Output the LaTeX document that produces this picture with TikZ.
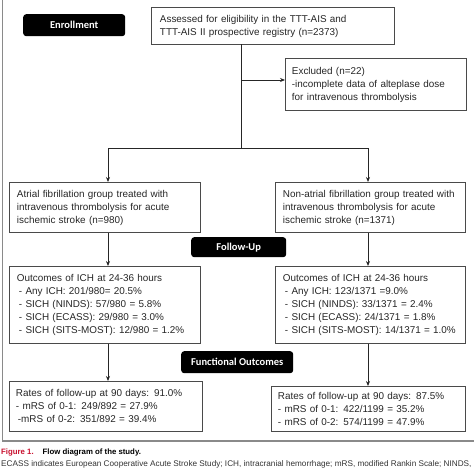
\documentclass[tikz,border=0pt]{standalone}
\usepackage{fontspec}
\setmainfont{Liberation Sans}
\newfontfamily\lblfont{Carlito}
\usetikzlibrary{arrows.meta}
\definecolor{capred}{HTML}{C8102E}
\definecolor{framegray}{HTML}{8A8A8A}
\definecolor{boxgray}{HTML}{4A4A4A}
\tikzset{
  flowbox/.style={draw=boxgray, line width=0.9pt, anchor=north west, align=left, inner sep=0pt,
    font=\fontsize{9.9}{13}\selectfont, text=black!85},
  stagebox/.style={fill=black, rounded corners=3pt, text=white, anchor=north west, inner sep=0pt,
    font=\lblfont\bfseries\fontsize{10.5}{12}\selectfont},
  conn/.style={line width=0.8pt, draw=black!85},
  arr/.style={conn, -{Stealth[length=5pt,width=4pt]}},
}
\begin{document}
\begin{tikzpicture}[x=1pt,y=-1pt]
\useasboundingbox (0,0) rectangle (474,469);
% frame
\draw[framegray, line width=1.6pt] (2.5,0) -- (2.5,441) -- (474,441);
% stage labels
\node[stagebox, minimum width=102pt, minimum height=22pt] (enr) at (23,14) {Enrollment};
\node[stagebox, minimum width=95pt, minimum height=20pt] (fu) at (191,237) {Follow-Up};
\node[stagebox, minimum width=112pt, minimum height=22pt] (fo) at (181,351) {Functional Outcomes};
% boxes
\node[flowbox, minimum width=243pt, minimum height=37pt, text width=238pt] (assess) at (151,7)
  {\hspace*{6pt}Assessed for eligibility in the TTT-AIS and\\\hspace*{6pt}TTT-AIS II prospective registry (n=2373)};
\node[flowbox, minimum width=181pt, minimum height=52pt, text width=178pt] (excl) at (285,58)
  {\hspace*{5pt}Excluded (n=22)\\\hspace*{5pt}-incomplete data of alteplase dose\\\hspace*{5pt}for intravenous thrombolysis};
\node[flowbox, minimum width=191pt, minimum height=50pt, text width=188pt] (afg) at (9,182)
  {\hspace*{6pt}Atrial fibrillation group treated with\\\hspace*{6pt}intravenous thrombolysis for acute\\\hspace*{6pt}ischemic stroke (n=980)};
\node[flowbox, minimum width=190pt, minimum height=50pt, text width=187pt] (nafg) at (275,182)
  {\hspace*{6pt}Non-atrial fibrillation group treated with\\\hspace*{6pt}intravenous thrombolysis for acute\\\hspace*{6pt}ischemic stroke (n=1371)};
\node[flowbox, minimum width=191pt, minimum height=77pt, text width=188pt] (lich) at (9,266)
  {\hspace*{6pt}Outcomes of ICH at 24-36 hours\\\hspace*{8pt}- Any ICH: 201/980= 20.5\%\\\hspace*{8pt}- SICH (NINDS): 57/980 = 5.8\%\\\hspace*{8pt}- SICH (ECASS): 29/980 = 3.0\%\\\hspace*{8pt}- SICH (SITS-MOST): 12/980 = 1.2\%};
\node[flowbox, minimum width=190pt, minimum height=77pt, text width=187pt] (rich) at (275,266)
  {\hspace*{6pt}Outcomes of ICH at 24-36 hours\\\hspace*{8pt}- Any ICH: 123/1371 =9.0\%\\\hspace*{8pt}- SICH (NINDS): 33/1371 = 2.4\%\\\hspace*{8pt}- SICH (ECASS): 24/1371 = 1.8\%\\\hspace*{8pt}- SICH (SITS-MOST): 14/1371 = 1.0\%};
\node[flowbox, minimum width=193pt, minimum height=50pt, text width=190pt] (lmrs) at (9,381)
  {\hspace*{5pt}Rates of follow-up at 90 days: 91.0\%\\\hspace*{5pt}- mRS of 0-1: 249/892 = 27.9\%\\\hspace*{7pt}-mRS of 0-2: 351/892 = 39.4\%};
\node[flowbox, minimum width=194pt, minimum height=45pt, text width=191pt] (rmrs) at (271,386)
  {\hspace*{5pt}Rates of follow-up at 90 days: 87.5\%\\\hspace*{5pt}- mRS of 0-1: 422/1199 = 35.2\%\\\hspace*{5pt}- mRS of 0-2: 574/1199 = 47.9\%};
% connectors
\coordinate (split) at (241,148);
\coordinate (exbr) at (241,80);
\coordinate (lsplit) at (108,148);
\coordinate (rsplit) at (368,148);
\draw[conn] (241,44) -- (split);
\draw[arr] (exbr) -- (excl.west |- exbr);
\draw[conn] (lsplit) -- (rsplit);
\draw[arr] (lsplit) -- (lsplit |- afg.north);
\draw[arr] (rsplit) -- (rsplit |- nafg.north);
\draw[arr] (lsplit |- afg.south) -- (lsplit |- lich.north);
\draw[arr] (rsplit |- nafg.south) -- (rsplit |- rich.north);
\draw[arr] (lsplit |- lich.south) -- (lsplit |- lmrs.north);
\draw[arr] (rsplit |- rich.south) -- (rsplit |- rmrs.north);
% caption
\node[anchor=west, inner sep=0pt, font=\bfseries\fontsize{7.8}{9}\selectfont] (cap1) at (1,452)
  {\textcolor{capred}{Figure 1.}\hspace{9pt}Flow diagram of the study.};
\node[anchor=west, inner sep=0pt, font=\fontsize{8.2}{9}\selectfont, text=black!80] (cap2) at (1,464)
  {ECASS indicates European Cooperative Acute Stroke Study; ICH, intracranial hemorrhage; mRS, modified Rankin Scale; NINDS,};
\end{tikzpicture}
\end{document}
